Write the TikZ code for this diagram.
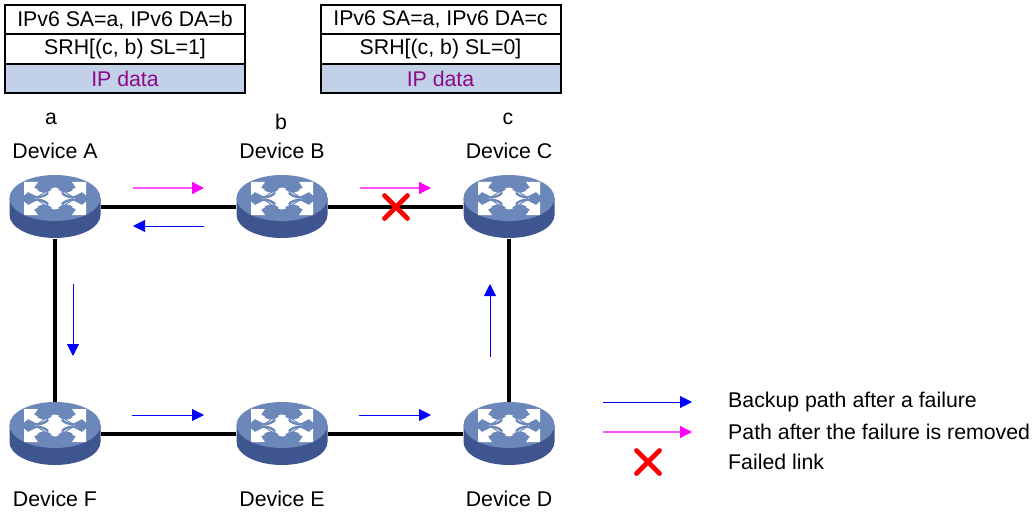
\documentclass[tikz,border=0pt]{standalone}
\usepackage{fontspec}
\setmainfont{Liberation Sans}
\usetikzlibrary{arrows.meta}
\definecolor{routertop}{HTML}{6C88BA}
\definecolor{routerside}{HTML}{3F5590}
\definecolor{databox}{HTML}{C3D1E8}
\definecolor{datatext}{HTML}{8B0A8B}
\definecolor{pathhead}{HTML}{FF00FF}
\definecolor{pathline}{HTML}{FF55FF}
\definecolor{backupblue}{HTML}{0000FF}
\definecolor{failred}{HTML}{FF0000}
\tikzset{
  link/.style = {line width=3.2pt},
  backup/.style = {backupblue,line width=1pt,-{Triangle[length=12pt,width=12pt]}},
  restored/.style = {pathline,line width=1.2pt,-{Triangle[length=12pt,width=12pt,color=pathhead]}},
  cell/.style = {draw,line width=2pt,minimum width=240,minimum height=29.5,inner sep=0pt,anchor=north west},
  device/.style = {minimum width=91,minimum height=63,inner sep=0pt},
  label/.style = {inner sep=0pt,font=\fontsize{21.3}{25}\selectfont},
  failx/.pic = {
    \draw[failred,line width=4.8pt,line cap=round] (-11.5,-11.5) -- (11.5,11.5) (-11.5,11.5) -- (11.5,-11.5);
  },
  routericon/.pic = {
    % body
    \fill[routerside] (-45.5,-9) -- (-45.5,8) arc[start angle=180,end angle=0,x radius=45.5,y radius=23] -- (45.5,-9) -- cycle;
    \fill[routertop] (0,-9) ellipse[x radius=45.5,y radius=23];
    % centre
    \fill[white,shift={(0,-8.5)}] (-20,0) .. controls (-10,-4) and (-6,-11) .. (0,-11) .. controls (6,-11) and (10,-4) .. (20,0) .. controls (10,4) and (6,11) .. (0,11) .. controls (-6,11) and (-10,4) .. (-20,0) -- cycle;
    % four corner arrows
    \foreach \sx in {1,-1} \foreach \sy in {1,-1} {
      \begin{scope}[shift={(0,-8.5)},xscale=\sx,yscale=\sy]
        \fill[white] (31,-16.5) -- (31,-3) -- (27,-6.5) -- (18,-2) -- (12,-6) -- (21,-11) -- (17,-16.5) -- cycle;
        \draw[routertop,line width=2.4pt] (4,-10) .. controls (8,-6.5) and (12,-6.5) .. (17,-9);
        \draw[routertop,line width=2.4pt] (19,-1) .. controls (13,-1.5) and (9,-3) .. (7,-6);
      \end{scope}
    }
  }
}
\begin{document}
\begin{tikzpicture}[x=1pt,y=-1pt]
\useasboundingbox (0,0) rectangle (1034,516);

% packet headers
\foreach \hdr/\hx/\dst/\left in {hdrA/4/b/1,hdrB/319.5/c/0} {
  \node[cell,label] (\hdr top) at (\hx,4) {IPv6 SA=a, IPv6 DA=\dst};
  \node[cell,label] (\hdr mid) at (\hx,33.5) {SRH[(c, b) SL=\left]};
  \node[cell,label,fill=databox,text=datatext] (\hdr data) at (\hx,63) {IP data};
}

\node[device] (devA) at (55,207) {};
\node[device] (devB) at (282,207) {};
\node[device] (devC) at (509,207) {};
\node[device] (devD) at (509,434) {};
\node[device] (devE) at (282,434) {};
\node[device] (devF) at (55,434) {};

\draw[link] (devA) -- (devB);
\draw[link] (devB) -- (devC);
\draw[link] (devC) -- (devD);
\draw[link] (devD) -- (devE);
\draw[link] (devE) -- (devF);
\draw[link] (devF) -- (devA);

\foreach \dev in {devA,devB,devC,devD,devE,devF}
  \pic at (\dev) {routericon};

\node[label] (addrA) at (51,119) {a};
\node[label] (addrB) at (281,122) {b};
\node[label] (addrC) at (508,119) {c};
\node[label] (nameA) at (55,151) {Device A};
\node[label] (nameB) at (282,151) {Device B};
\node[label] (nameC) at (509,151) {Device C};
\node[label] (nameF) at (55,499) {Device F};
\node[label] (nameE) at (282,499) {Device E};
\node[label] (nameD) at (509,499) {Device D};

% paths
\coordinate (p1) at (133,188);  \coordinate (p2) at (204,188);
\coordinate (p3) at (360,188);  \coordinate (p4) at (431,188);
\coordinate (p5) at (204,226);  \coordinate (p6) at (133,226);
\coordinate (p7) at (73,284);   \coordinate (p8) at (73,356);
\coordinate (p9) at (132,415);  \coordinate (p10) at (204,415);
\coordinate (p11) at (359,415); \coordinate (p12) at (431,415);
\coordinate (p13) at (490,357); \coordinate (p14) at (490,284);
\draw[restored] (p1) -- (p2);
\draw[restored] (p3) -- (p4);
\draw[backup] (p5) -- (p6);
\draw[backup] (p7) -- (p8);
\draw[backup] (p9) -- (p10);
\draw[backup] (p11) -- (p12);
\draw[backup] (p13) -- (p14);
\pic at (396,207) {failx};

% legend
\coordinate (k1) at (603,402); \coordinate (k2) at (692,402);
\coordinate (k3) at (603,432); \coordinate (k4) at (692,432);
\draw[backup] (k1) -- (k2);
\draw[restored] (k3) -- (k4);
\pic at (648,462) {failx};
\node[label,anchor=west] (keyA) at (728,402) {Backup path after a failure};
\node[label,anchor=west] (keyB) at (728,431.5) {Path after the failure is removed};
\node[label,anchor=west] (keyC) at (728,461.5) {Failed link};
\end{tikzpicture}
\end{document}
